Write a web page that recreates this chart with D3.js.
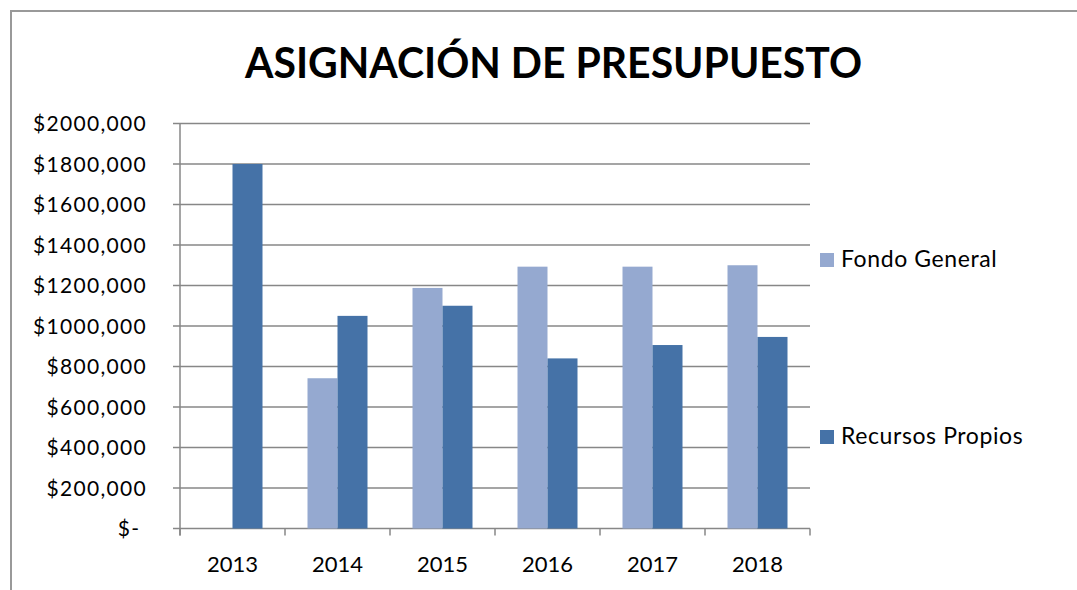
<!DOCTYPE html>
<html>
<head>
<meta charset="utf-8">
<script src="https://cdn.jsdelivr.net/npm/d3@7"></script>
<style>
  body { margin: 0; background: #fff; }
  text { font-family: Lato, "Open Sans", sans-serif; fill: #000; }
</style>
</head>
<body>
<div id="chart"></div>
<script>
const years = ['2013', '2014', '2015', '2016', '2017', '2018'];
const seriesNames = ['Fondo General', 'Recursos Propios'];
const fondoGeneral = [0, 742000, 1188000, 1293000, 1293000, 1300000];
const recursosPropios = [1800000, 1050000, 1100000, 840000, 906000, 946000];
const yTicks = [0, 200000, 400000, 600000, 800000, 1000000, 1200000, 1400000, 1600000, 1800000, 2000000];
const yTickLabels = ['$- ', '$200,000', '$400,000', '$600,000', '$800,000', '$1000,000',
                     '$1200,000', '$1400,000', '$1600,000', '$1800,000', '$2000,000'];
const colors = ['#95a9d0', '#4572a7'];

const w = 1077;
const h = 590;

const svg = d3.select('#chart')
  .append('svg')
  .attr('width', w)
  .attr('height', h)

// outer chart border (only top and left visible)
svg.append('rect')
  .attr('x', 11)
  .attr('y', 11)
  .attr('width', 1100)
  .attr('height', 620)
  .attr('fill', 'none')
  .attr('stroke', '#999')
  .attr('stroke-width', 2)

svg.append('text')
  .attr('x', 553.5)
  .attr('y', 78)
  .attr('text-anchor', 'middle')
  .attr('font-size', 42)
  .attr('font-weight', 'bold')
  .attr('textLength', 617)
  .attr('lengthAdjust', 'spacingAndGlyphs')
  .text('ASIGNACIÓN DE PRESUPUESTO')

const xScale = d3.scaleBand()
  .domain(years)
  .range([180, 810])

const xInner = d3.scaleBand()
  .domain(seriesNames)
  .range([22.5, 82.5])

const yScale = d3.scaleLinear()
  .domain([0, 2000000])
  .range([528.5, 123.5])

// gridlines
svg.append('g')
  .selectAll('line')
  .data(yTicks)
  .enter()
  .append('line')
  .attr('x1', 173)
  .attr('x2', 810)
  .attr('y1', d => yScale(d))
  .attr('y2', d => yScale(d))
  .attr('stroke', '#878787')
  .attr('stroke-width', 1.5)

// y axis line
svg.append('line')
  .attr('x1', 180).attr('x2', 180)
  .attr('y1', yScale(2000000)).attr('y2', yScale(0) + 7)
  .attr('stroke', '#878787')
  .attr('stroke-width', 1.5)

// y labels
svg.append('g')
  .selectAll('text')
  .data(yTicks)
  .enter()
  .append('text')
  .attr('x', 147)
  .attr('y', d => yScale(d))
  .attr('dy', '0.36em')
  .attr('text-anchor', 'end')
  .attr('font-size', 21)
  .attr('letter-spacing', 1.3)
  .style('white-space', 'pre')
  .text((d, i) => yTickLabels[i])

// x tick marks
const xEdges = years.map(y => xScale(y)).concat([xScale.range()[1]])
svg.append('g')
  .selectAll('line')
  .data(xEdges)
  .enter()
  .append('line')
  .attr('x1', d => d).attr('x2', d => d)
  .attr('y1', yScale(0)).attr('y2', yScale(0) + 7)
  .attr('stroke', '#878787')
  .attr('stroke-width', 1.5)

// bars
const dataset = years.map((y, i) => ({ year: y, values: [fondoGeneral[i], recursosPropios[i]] }))

const groups = svg.append('g')
  .selectAll('g')
  .data(dataset)
  .enter()
  .append('g')
  .attr('transform', d => 'translate(' + xScale(d.year) + ',0)')

groups.selectAll('rect')
  .data(d => d.values.map((v, j) => ({ name: seriesNames[j], value: v, j: j })))
  .enter()
  .append('rect')
  .attr('x', d => xInner(d.name))
  .attr('y', d => yScale(d.value))
  .attr('width', xInner.bandwidth())
  .attr('height', d => yScale(0) - yScale(d.value))
  .style('fill', d => colors[d.j])

// x labels
svg.append('g')
  .selectAll('text')
  .data(years)
  .enter()
  .append('text')
  .attr('x', d => xScale(d) + xScale.bandwidth() / 2)
  .attr('y', 571.5)
  .attr('text-anchor', 'middle')
  .attr('font-size', 22)
  .text(d => d)

// legend
const legendY = [267, 444]
const legend = svg.append('g')
  .selectAll('g')
  .data(seriesNames)
  .enter()
  .append('g')

legend.append('rect')
  .attr('x', 820)
  .attr('y', (d, i) => legendY[i] - 14)
  .attr('width', 14)
  .attr('height', 14)
  .style('fill', (d, i) => colors[i])

legend.append('text')
  .attr('x', 841)
  .attr('y', (d, i) => legendY[i])
  .attr('font-size', 23)
  .attr('letter-spacing', 0.6)
  .text(d => d)
</script>
</body>
</html>
